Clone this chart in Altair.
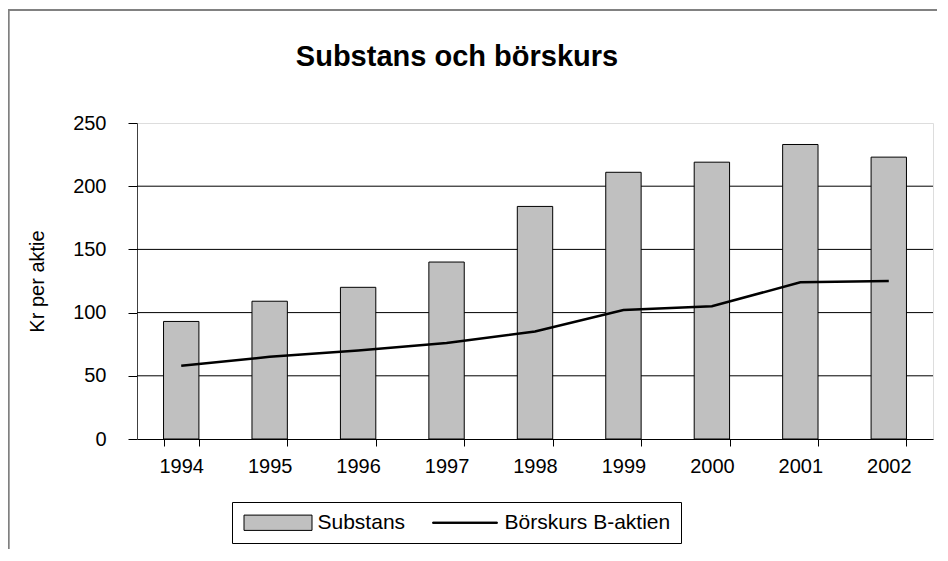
import altair as alt
import pandas as pd

years = ["1994", "1995", "1996", "1997", "1998", "1999", "2000", "2001", "2002"]
substans = [93, 109, 120, 140, 184, 211, 219, 233, 223]
borskurs = [58, 65, 70, 76, 85, 102, 105, 124, 125]
series_names = ["Substans", "Börskurs B-aktien"]
grid_values = [50, 100, 150, 200]
y_ticks = [0, 50, 100, 150, 200, 250]

FONT = "Liberation Sans"

df = pd.DataFrame({"year": years, "substans": substans, "borskurs": borskurs})
grid_df = pd.DataFrame({"g": grid_values})
legend_df = pd.DataFrame({"serie": series_names, "year": [years[0]] * 2, "v": [0, 0]})

xscale = alt.Scale(domain=years, paddingInner=0.6, paddingOuter=0.3)
yscale = alt.Scale(domain=[0, 250], nice=False)

x_enc = alt.X(
    "year:O",
    title=None,
    scale=xscale,
    axis=alt.Axis(
        labelAngle=0, labelFontSize=20, labelFont=FONT, labelColor="black",
        tickBand="extent", tickSize=7, tickColor="black", domainColor="black",
        labelPadding=10, grid=False,
    ),
)

y_axis = alt.Axis(
    values=y_ticks, grid=False, title="Kr per aktie",
    labelFontSize=20, labelFont=FONT, labelColor="black", labelPadding=22,
    tickSize=9, tickColor="black", domainColor="#404040",
    titleFontSize=20, titleFont=FONT, titleFontWeight="normal", titleColor="black",
    titleAngle=270, titleX=-94, titleY=158, titleAlign="center", titleBaseline="alphabetic",
)

grid = alt.Chart(grid_df).mark_rule(color="black", strokeWidth=1).encode(
    y=alt.Y("g:Q", scale=yscale, axis=y_axis, title="Kr per aktie")
)

bars = alt.Chart(df).mark_bar(fill="#c0c0c0", stroke="black", strokeWidth=1).encode(
    x=x_enc,
    y=alt.Y("substans:Q", scale=yscale, axis=y_axis, title="Kr per aktie"),
)

line = alt.Chart(df).mark_line(color="black", strokeWidth=2.5).encode(
    x=x_enc,
    y=alt.Y("borskurs:Q", scale=yscale, axis=y_axis, title="Kr per aktie"),
)

# symbol paths wider than the unit square so the entry height stays small
rect_path = "M-4,-0.9H4V0.9H-4Z"
line_path = "M-3.8,-0.08H3.8V0.08H-3.8Z"

leg = alt.Legend(
    title=None, orient="none", legendX=95, legendY=379, direction="horizontal", columns=2,
    strokeColor="black", padding=10, symbolSize=289, symbolOffset=25.5,
    symbolStrokeColor="black", symbolStrokeWidth=1, symbolOpacity=1,
    labelFontSize=21, labelFont=FONT, labelColor="black", labelOffset=29, labelLimit=400,
    columnPadding=23, fillColor="white",
)

legend_layer = alt.Chart(legend_df).mark_point(filled=True, opacity=0, strokeWidth=1).encode(
    x=x_enc,
    y=alt.Y("v:Q", scale=yscale, axis=y_axis, title="Kr per aktie"),
    color=alt.Color("serie:N", scale=alt.Scale(domain=series_names, range=["#c0c0c0", "black"]), legend=leg),
    shape=alt.Shape("serie:N", scale=alt.Scale(domain=series_names, range=[rect_path, line_path]), legend=leg),
    stroke=alt.Stroke("serie:N", scale=alt.Scale(domain=series_names, range=["black", "black"]), legend=leg),
)

border_top = alt.Chart(grid_df).mark_rule(color="#808080", strokeWidth=1.5).encode(
    x=alt.value(-129), x2=alt.value(800), y=alt.value(-113)
)
border_left = alt.Chart(grid_df).mark_rule(color="#808080", strokeWidth=1.5).encode(
    x=alt.value(-128.5), y=alt.value(-113), y2=alt.value(500)
)

chart = alt.layer(grid, bars, line, legend_layer, border_top, border_left).properties(
    width=796,
    height=316,
    title=alt.TitleParams(
        "Substans och börskurs", fontSize=29, font=FONT, fontWeight="bold", color="black",
        anchor="middle", frame="group", dx=-78, offset=-85.25, baseline="alphabetic",
    ),
    autosize=alt.AutoSizeParams(type="none"),
    padding={"left": 129, "top": 115, "right": 7, "bottom": 110},
).configure_view(stroke="#808080", strokeWidth=1).configure(background="white")

chart.save("out.html", embed_options={"renderer": "svg", "actions": False})
